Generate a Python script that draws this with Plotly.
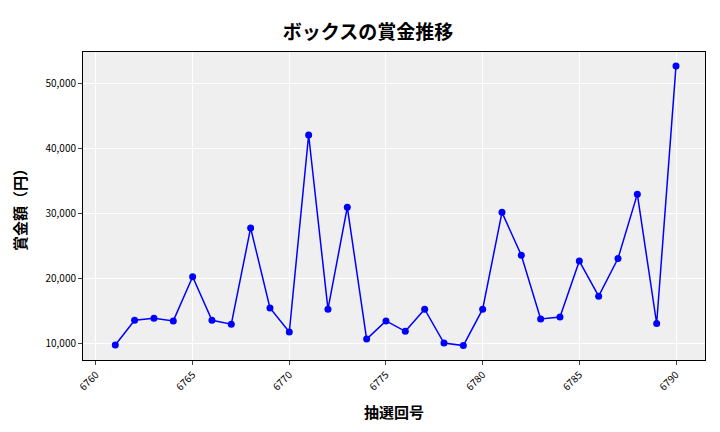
import plotly.graph_objects as go

draws = list(range(6761, 6791))
prizes = [9700, 13500, 13800, 13400, 20200, 13500, 12900, 27700, 15400, 11700,
          42000, 15200, 30900, 10600, 13400, 11800, 15200, 10000, 9600, 15200,
          30100, 23500, 13700, 14000, 22600, 17200, 23000, 32900, 13000, 52600]

fig = go.Figure(go.Scatter(x=draws, y=prizes, mode="lines+markers",
                           line=dict(color="#0000ff", width=1.5),
                           marker=dict(color="#0000ff", size=7)))
font = "Noto Sans CJK JP"
fig.update_layout(
    width=720, height=432, plot_bgcolor="#efefef", paper_bgcolor="white",
    margin=dict(l=72, r=23, t=44, b=80),
    font=dict(family=font, color="black"),
    title=dict(text="<b>ボックスの賞金推移</b>", x=0.5, xanchor="center", y=0.96,
               font=dict(size=19, family=font)),
    showlegend=False,
)
fig.update_xaxes(range=[6759.33, 6791.5], tickvals=[6760, 6765, 6770, 6775, 6780, 6785, 6790],
                 tickangle=-45, tickfont=dict(size=10), showgrid=True, gridcolor="white",
                 ticks="outside", ticklen=4, showline=True, linecolor="black", mirror=True,
                 title=dict(text="<b>抽選回号</b>", font=dict(size=15)))
fig.update_yaxes(range=[7385, 54770], tickvals=[10000, 20000, 30000, 40000, 50000],
                 tickformat=",", tickfont=dict(size=10), showgrid=True, gridcolor="white",
                 ticks="outside", ticklen=4, showline=True, linecolor="black", mirror=True,
                 title=dict(text="<b>賞金額（円）</b>", font=dict(size=15)))
fig.write_html("out.html")
